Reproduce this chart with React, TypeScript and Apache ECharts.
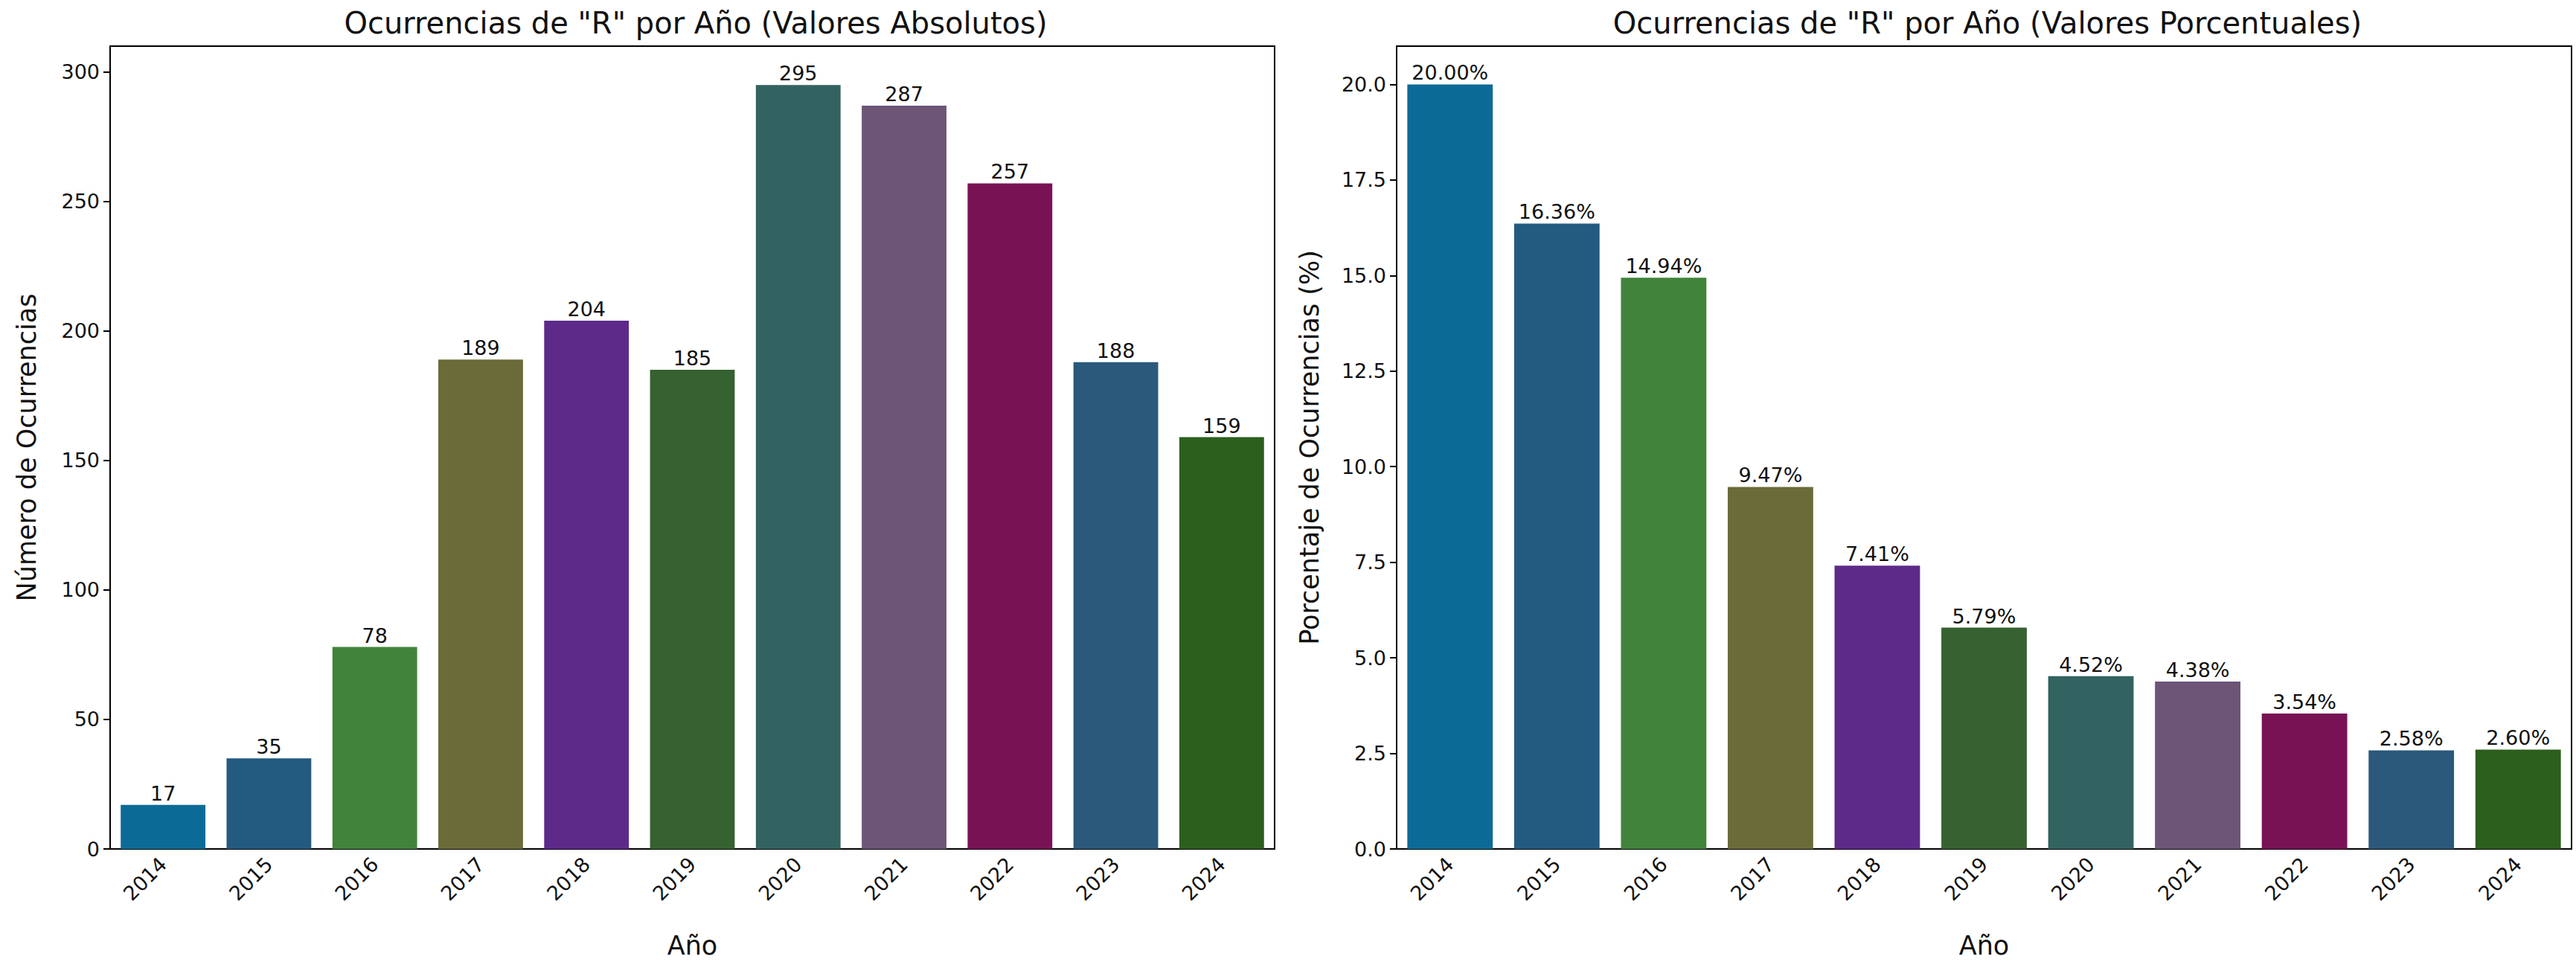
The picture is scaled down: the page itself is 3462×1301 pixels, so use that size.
import { useEffect, useRef } from 'react';
import * as echarts from 'echarts';

const years = ['2014', '2015', '2016', '2017', '2018', '2019', '2020', '2021', '2022', '2023', '2024'];
const counts = [17, 35, 78, 189, 204, 185, 295, 287, 257, 188, 159];
const percents = [20.0, 16.36, 14.94, 9.47, 7.41, 5.79, 4.52, 4.38, 3.54, 2.58, 2.6];
const colors = ['#0c6b96', '#235a80', '#41833b', '#6b6b3a', '#5d2a8a', '#366131', '#326360', '#6c5577', '#791255', '#2a597b', '#2c5e1d'];

const font = 'DejaVu Sans';

export default function App() {
    const chartRef = useRef<HTMLDivElement>(null);

    useEffect(() => {
        if (!chartRef.current) return;
        document.body.style.margin = '0';
        const chart = echarts.init(chartRef.current, null, { renderer: 'svg' });

        const xAxis = (gridIndex: number) => ({
            type: 'category',
            gridIndex,
            data: years,
            name: 'Año',
            nameLocation: 'middle',
            nameGap: 112,
            nameTextStyle: { fontFamily: font, fontSize: 35, color: '#111' },
            axisLine: { lineStyle: { color: '#000', width: 2 } },
            axisTick: { alignWithLabel: true, length: 9, lineStyle: { color: '#000', width: 2 } },
            axisLabel: { rotate: 45, fontFamily: font, fontSize: 27, color: '#111', margin: 16 },
        });
        const yAxis = (gridIndex: number, max: number, interval: number, name: string, dec: number) => ({
            type: 'value',
            gridIndex,
            min: 0,
            max,
            interval,
            name,
            nameLocation: 'middle',
            nameGap: dec ? 100 : 95,
            nameTextStyle: { fontFamily: font, fontSize: 35, color: '#111' },
            splitLine: { show: false },
            axisLine: { show: true, lineStyle: { color: '#000', width: 2 } },
            axisTick: { show: true, length: 9, lineStyle: { color: '#000', width: 2 } },
            axisLabel: {
                fontFamily: font, fontSize: 27, color: '#111', margin: 14,
                formatter: (v: number) => (v > max - 0.001 && v % interval !== 0 ? '' : dec ? v.toFixed(1) : String(v)),
                showMaxLabel: false,
            },
        });
        const bars = (idx: number, values: number[], fmt: (v: number) => string) => ({
            type: 'bar',
            xAxisIndex: idx,
            yAxisIndex: idx,
            barCategoryGap: '20%',
            data: values.map((v, i) => ({ value: v, itemStyle: { color: colors[i] } })),
            label: {
                show: true,
                position: 'top',
                distance: 2,
                fontFamily: font,
                fontSize: 27,
                color: '#111',
                formatter: (p: any) => fmt(p.value),
            },
        });

        chart.setOption({
            animation: false,
            backgroundColor: '#fff',
            title: [
                { text: 'Ocurrencias de "R" por Año (Valores Absolutos)', left: 930, top: 6, textAlign: 'center', textStyle: { fontFamily: font, fontSize: 40, fontWeight: 'normal', color: '#111' } },
                { text: 'Ocurrencias de "R" por Año (Valores Porcentuales)', left: 2666, top: 6, textAlign: 'center', textStyle: { fontFamily: font, fontSize: 40, fontWeight: 'normal', color: '#111' } },
            ],
            grid: [
                { left: 148, top: 62, width: 1565, height: 1079, show: true, borderColor: '#000', borderWidth: 2 },
                { left: 1877, top: 62, width: 1579, height: 1079, show: true, borderColor: '#000', borderWidth: 2 },
            ],
            xAxis: [xAxis(0), xAxis(1)],
            yAxis: [
                yAxis(0, 310, 50, 'Número de Ocurrencias', 0),
                yAxis(1, 21, 2.5, 'Porcentaje de Ocurrencias (%)', 1),
            ],
            series: [
                bars(0, counts, (v) => String(v)),
                bars(1, percents, (v) => v.toFixed(2) + '%'),
            ],
        });

        return () => chart.dispose();
    }, []);

    return <div ref={chartRef} style={{ width: 3462, height: 1301 }} />;
}
